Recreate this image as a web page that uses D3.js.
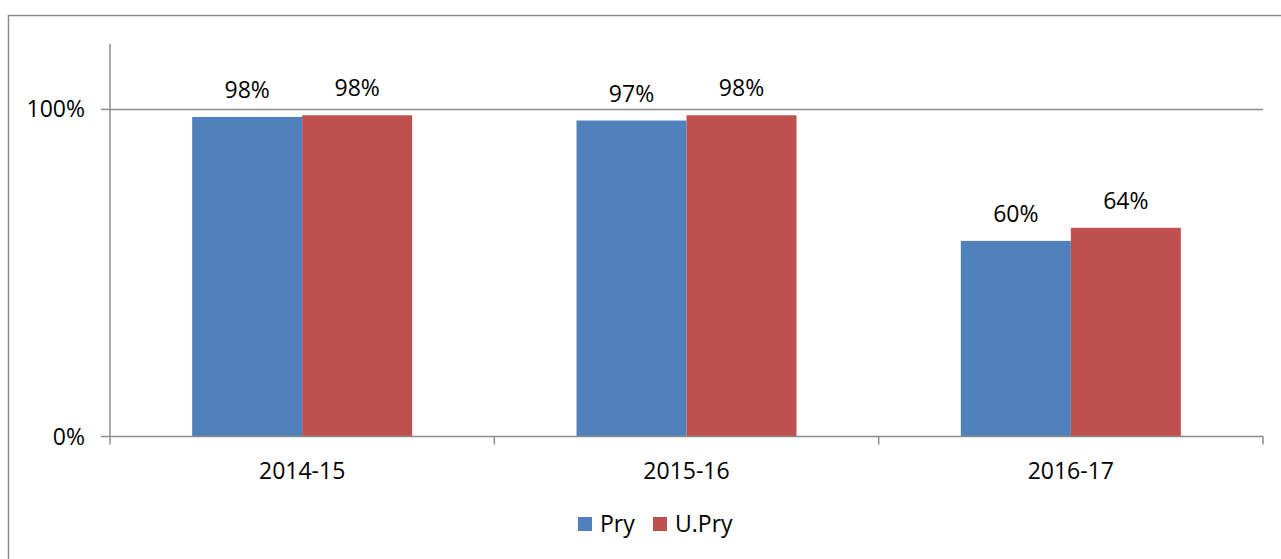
<!DOCTYPE html>
<html>
<head>
<meta charset="utf-8">
<script src="https://cdn.jsdelivr.net/npm/d3@7"></script>
<style>
  body { margin: 0; background: #fff; }
  text { font-family: "Open Sans", "Liberation Sans", sans-serif; fill: #000; }
</style>
</head>
<body>
<div class="myChart"></div>
<script>
var years = ["2014-15", "2015-16", "2016-17"];
var seriesNames = ["Pry", "U.Pry"];
var pryValues = [0.977, 0.966, 0.598];
var upryValues = [0.982, 0.982, 0.638];
var pryLabels = ["98%", "97%", "60%"];
var upryLabels = ["98%", "98%", "64%"];
var yTicks = [0, 1];
var colors = ["#4F81BD", "#C0504D"];

var svgWidth = 1281;
var svgHeight = 559;
var fontSize = "23px";

var svg = d3.select(".myChart")
  .append("svg")
  .attr("width", svgWidth)
  .attr("height", svgHeight);

// outer chart border
svg.append("rect")
  .attr("x", 8.5).attr("y", 15.5)
  .attr("width", 1290).attr("height", 560)
  .attr("fill", "none")
  .attr("stroke", "#8c8c8c")
  .attr("stroke-width", 1.5);

var plotLeft = 110, plotRight = 1263, plotTop = 44, plotBottom = 436.5;

var x0 = d3.scaleBand().domain(years).range([plotLeft, plotRight]).paddingInner(0).paddingOuter(0);
var groupW = 220;
var x1 = d3.scaleBand().domain(seriesNames).range([0, groupW]);
var y = d3.scaleLinear().domain([0, 1.2]).range([plotBottom, plotTop]);

var data = years.map(function(d, i) {
  return { year: d, vals: [
    { name: "Pry", v: pryValues[i], label: pryLabels[i] },
    { name: "U.Pry", v: upryValues[i], label: upryLabels[i] }
  ]};
});

// gridline at 100%
svg.append("line")
  .attr("x1", plotLeft).attr("x2", plotRight)
  .attr("y1", y(1)).attr("y2", y(1))
  .attr("stroke", "#8c8c8c").attr("stroke-width", 1.5);

var groups = svg.selectAll(".grp")
  .data(data)
  .enter().append("g")
  .attr("class", "grp")
  .attr("transform", function(d) {
    return "translate(" + (x0(d.year) + (x0.bandwidth() - groupW) / 2) + ",0)";
  });

groups.selectAll("rect")
  .data(function(d) { return d.vals; })
  .enter().append("rect")
  .attr("x", function(d) { return x1(d.name); })
  .attr("y", function(d) { return y(d.v); })
  .attr("width", x1.bandwidth())
  .attr("height", function(d) { return plotBottom - y(d.v); })
  .attr("fill", function(d, i) { return colors[i]; });

groups.selectAll("text")
  .data(function(d) { return d.vals; })
  .enter().append("text")
  .attr("x", function(d) { return x1(d.name) + x1.bandwidth() / 2; })
  .attr("y", function(d) { return y(d.v) - 19; })
  .attr("text-anchor", "middle")
  .style("font-size", fontSize)
  .text(function(d) { return d.label; });

// y axis
svg.append("line")
  .attr("x1", plotLeft).attr("x2", plotLeft)
  .attr("y1", plotTop).attr("y2", plotBottom)
  .attr("stroke", "#8c8c8c").attr("stroke-width", 1.5);

svg.selectAll(".ytick")
  .data(yTicks)
  .enter().append("line")
  .attr("x1", plotLeft - 9).attr("x2", plotLeft)
  .attr("y1", function(d) { return y(d); })
  .attr("y2", function(d) { return y(d); })
  .attr("stroke", "#8c8c8c").attr("stroke-width", 1.5);

svg.selectAll(".ylab")
  .data(yTicks)
  .enter().append("text")
  .attr("x", plotLeft - 25)
  .attr("y", function(d) { return y(d); })
  .attr("dy", "0.35em")
  .attr("text-anchor", "end")
  .style("font-size", fontSize)
  .text(function(d) { return d3.format(".0%")(d); });

// x axis
svg.append("line")
  .attr("x1", plotLeft).attr("x2", plotRight)
  .attr("y1", plotBottom).attr("y2", plotBottom)
  .attr("stroke", "#8c8c8c").attr("stroke-width", 1.5);

var xTickPos = years.map(function(d) { return x0(d); }).concat([plotRight]);
svg.selectAll(".xtick")
  .data(xTickPos)
  .enter().append("line")
  .attr("x1", function(d) { return d; })
  .attr("x2", function(d) { return d; })
  .attr("y1", plotBottom).attr("y2", plotBottom + 8)
  .attr("stroke", "#8c8c8c").attr("stroke-width", 1.5);

svg.selectAll(".xlab")
  .data(years)
  .enter().append("text")
  .attr("x", function(d) { return x0(d) + x0.bandwidth() / 2; })
  .attr("y", 471)
  .attr("dy", "0.35em")
  .attr("text-anchor", "middle")
  .style("font-size", fontSize)
  .text(function(d) { return d; });

// legend
var legendX = [578, 653];
var legend = svg.selectAll(".leg")
  .data(seriesNames)
  .enter().append("g")
  .attr("transform", function(d, i) { return "translate(" + legendX[i] + ",517)"; });

legend.append("rect")
  .attr("width", 14).attr("height", 14)
  .attr("fill", function(d, i) { return colors[i]; });

legend.append("text")
  .attr("x", 22).attr("y", 7)
  .attr("dy", "0.35em")
  .style("font-size", fontSize)
  .text(function(d) { return d; });
</script>
</body>
</html>
